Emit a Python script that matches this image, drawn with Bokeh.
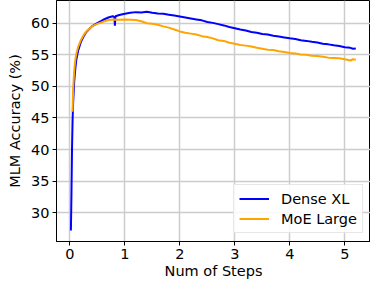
from bokeh.plotting import figure
from bokeh.models import Range1d, FixedTicker, Label, Legend, LegendItem
from bokeh.embed import file_html
from bokeh.resources import INLINE

# ---- data (steps, accuracy %) ----
dense_steps = [2000, 3000, 4000, 5000, 6000, 8000, 10000, 12000, 15000, 20000,
               25000, 30000, 40000, 50000, 60000, 70000, 78000, 81000, 82000, 83000,
               90000, 100000, 110000, 120000, 130000, 140000, 150000, 160000, 170000, 180000,
               190000, 200000, 210000, 220000, 230000, 240000, 250000, 260000, 270000, 280000,
               290000, 300000, 310000, 320000, 330000, 340000, 350000, 360000, 370000, 380000,
               390000, 400000, 410000, 420000, 430000, 440000, 450000, 460000, 470000, 480000,
               490000, 500000, 510000, 515000, 520000]
dense_acc = [27.2, 33.0, 40.0, 44.5, 47.3, 50.8, 52.8, 54.3, 55.6, 57.0,
             57.9, 58.6, 59.5, 60.0, 60.5, 60.9, 61.1, 61.0, 59.6, 61.1,
             61.3, 61.5, 61.65, 61.75, 61.7, 61.8, 61.65, 61.55, 61.5, 61.35,
             61.2, 61.05, 60.9, 60.75, 60.6, 60.45, 60.2, 60.05, 59.85, 59.65,
             59.4, 59.2, 59.0, 58.85, 58.6, 58.5, 58.3, 58.2, 58.0, 57.9,
             57.75, 57.6, 57.5, 57.3, 57.2, 57.05, 56.95, 56.75, 56.65, 56.5,
             56.4, 56.2, 56.1, 55.95, 56.0]

moe_steps = [5000, 6000, 8000, 10000, 12000, 15000, 20000, 25000, 30000, 40000,
             50000, 60000, 70000, 80000, 90000, 100000, 110000, 120000, 130000, 140000,
             150000, 160000, 170000, 180000, 190000, 200000, 210000, 220000, 230000, 240000,
             250000, 260000, 270000, 280000, 290000, 300000, 310000, 320000, 330000, 340000,
             350000, 360000, 370000, 380000, 390000, 400000, 410000, 420000, 430000, 440000,
             450000, 460000, 470000, 480000, 490000, 500000, 510000, 515000, 520000]
moe_acc = [46.0, 49.5, 52.5, 54.2, 55.2, 56.2, 57.3, 58.1, 58.7, 59.5,
           59.9, 60.2, 60.5, 60.6, 60.55, 60.6, 60.55, 60.5, 60.3, 60.0,
           59.9, 59.75, 59.5, 59.3, 59.0, 58.7, 58.5, 58.35, 58.2, 57.95,
           57.8, 57.6, 57.3, 57.2, 56.9, 56.75, 56.55, 56.45, 56.3, 56.1,
           55.95, 55.8, 55.75, 55.55, 55.45, 55.3, 55.2, 55.05, 55.0, 54.85,
           54.8, 54.7, 54.55, 54.5, 54.45, 54.3, 54.1, 54.3, 54.2]

x_ticks = [0, 100000, 200000, 300000, 400000, 500000]
x_tick_labels = ["0", "1", "2", "3", "4", "5"]
y_ticks = [30, 35, 40, 45, 50, 55, 60]

FONT = "DejaVu Sans"

p = figure(width=370, height=283, output_backend="svg", toolbar_location=None,
           x_range=Range1d(-24200, 546700), y_range=Range1d(25.46, 63.59),
           min_border_left=56, min_border_right=0, min_border_top=0, min_border_bottom=42)

p.outline_line_color = "black"
p.outline_line_width = 1
p.background_fill_color = "white"
p.border_fill_color = "white"

r1 = p.line(dense_steps, dense_acc, line_color="#0000ff", line_width=2)
r2 = p.line(moe_steps, moe_acc, line_color="#ffa500", line_width=2)

for ax in (p.xaxis[0], p.yaxis[0]):
    ax.axis_line_color = "black"
    ax.major_tick_line_color = "black"
    ax.major_tick_out = 4
    ax.major_tick_in = 0
    ax.minor_tick_line_color = None
    ax.major_label_text_font = FONT
    ax.major_label_text_font_size = "14.5px"
    ax.major_label_text_color = "black"
    ax.axis_label_text_font = FONT
    ax.axis_label_text_font_size = "14.5px"
    ax.axis_label_text_font_style = "normal"
    ax.axis_label_text_color = "black"
    ax.major_label_standoff = 3

p.xaxis.ticker = FixedTicker(ticks=x_ticks)
p.xaxis.major_label_overrides = {t: l for t, l in zip(x_ticks, x_tick_labels)}
p.xaxis.axis_label = "Num of Steps"
p.xaxis.axis_label_standoff = 1
p.yaxis.ticker = FixedTicker(ticks=y_ticks)
p.yaxis.axis_label = "MLM Accuracy (%)"
p.yaxis.axis_label_standoff = 5

p.grid.grid_line_color = "#cccccc"
p.grid.grid_line_width = 1.5

legend = Legend(items=[LegendItem(label="Dense XL", renderers=[r1]),
                       LegendItem(label="MoE Large", renderers=[r2])],
                location=(177, 8))
legend.label_text_font = FONT
legend.label_text_font_size = "14.5px"
legend.label_text_color = "black"
legend.glyph_width = 30
legend.glyph_height = 17
legend.label_height = 17
legend.label_standoff = 12
legend.spacing = 3
legend.padding = 5
legend.margin = 0
legend.border_line_color = "#d0d0d0"
legend.background_fill_alpha = 0.85
p.add_layout(legend, "center")

p.add_layout(Label(x=353, y=266, x_units="canvas", y_units="canvas", text="1e5",
                   text_font=FONT, text_font_size="8.5px", text_color="#333333",
                   text_baseline="middle"))

open("out.html", "w").write(file_html(p, INLINE))
